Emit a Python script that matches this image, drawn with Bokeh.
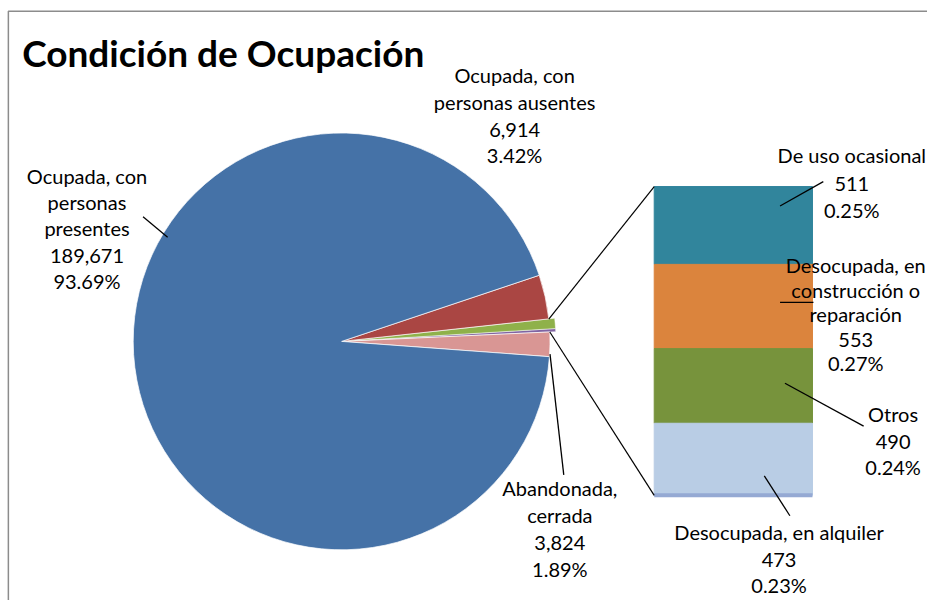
import math
from bokeh.plotting import figure
from bokeh.models import Range1d, ColumnDataSource
from bokeh.core.properties import value
from bokeh.embed import file_html
from bokeh.resources import INLINE

# ---------------- data ----------------
pie_names = ["Ocupada, con\npersonas\npresentes", "Ocupada, con\npersonas ausentes", "Abandonada,\ncerrada"]
pie_values = [189671, 6914, 3824]
bar_names = ["De uso ocasional", "Desocupada, en\nconstrucción o\nreparación", "Otros", "Desocupada, en alquiler"]
bar_values = [511, 553, 490, 473]

pie_colors = ["#4572A7", "#AA4643", "#D99694"]
bar_colors = ["#31859C", "#DB843D", "#77933C", "#B9CDE5"]
other_colors = ["#8FB14A", "#8064A2"]

total = sum(pie_values) + sum(bar_values)
other_total = sum(bar_values)

def lab(name, v):
    return f"{name}\n{v:,}\n{100.0 * v / total:.2f}%"

# ---------------- layout (data space = reference pixel space) ----------------
W, H = 927, 600
RW, RH = 943, 616
FONT = "Lato"

def to_data(x, y):
    return x, RH - y

cx, cy = to_data(347, 350)
R = 212
start_deg = -4.2

p = figure(width=W, height=H, x_range=Range1d(0, RW), y_range=Range1d(0, RH),
           output_backend="svg", toolbar_location=None,
           x_axis_type=None, y_axis_type=None, min_border=0)
p.outline_line_color = None
p.background_fill_color = "white"
p.border_fill_color = "white"

# chart frame (left and top edges visible)
fx, fy = to_data(8, 11)
p.line([fx, fx, RW], [0, fy, fy], line_color="#8C8C8C", line_width=1.5)

# ---------------- pie ----------------
seq = [(pie_values[2], pie_colors[2]), ("other", None), (pie_values[1], pie_colors[1]), (pie_values[0], pie_colors[0])]
a = math.radians(start_deg)
other_start = other_end = None
w_s, w_e, w_c = [], [], []
for v, c in seq:
    if v == "other":
        other_start = a
        span = 2 * math.pi * other_total / total
        other_end = a + span
        split = a + span * bar_values[3] / other_total
        p.wedge(x=cx, y=cy, radius=R + 6, start_angle=a, end_angle=split, color=other_colors[1],
                line_color="white", line_width=0.5)
        p.wedge(x=cx, y=cy, radius=R + 6, start_angle=split, end_angle=other_end, color=other_colors[0],
                line_color="white", line_width=0.5)
        a = other_end
        continue
    span = 2 * math.pi * v / total
    w_s.append(a); w_e.append(a + span); w_c.append(c)
    a += span
p.wedge(x=cx, y=cy, radius=R, start_angle="s", end_angle="e", color="c",
        line_color="white", line_alpha=0.7, line_width=1,
        source=ColumnDataSource(dict(s=w_s, e=w_e, c=w_c)))

# ---------------- stacked bar ----------------
bar_x0, bar_x1 = 665, 826
bar_bot = RH - 508
bar_top = RH - 191
k = other_total / (bar_top - bar_bot)
p.extra_y_ranges = {"bar": Range1d(start=-bar_bot * k, end=(RH - bar_bot) * k)}

bottoms, tops = [], []
acc = 0
for v in reversed(bar_values):
    bottoms.append(acc); acc += v; tops.append(acc)
bottoms = bottoms[::-1]; tops = tops[::-1]
p.quad(left=bar_x0, right=bar_x1, bottom="b", top="t", color="c", y_range_name="bar",
       source=ColumnDataSource(dict(b=bottoms, t=tops, c=bar_colors)))
p.segment(x0=bar_x0, y0=0, x1=bar_x1, y1=0, line_color="#95A9D3", line_width=4, y_range_name="bar")

# connectors from pie to bar
px_top = (cx + R * math.cos(other_end), cy + R * math.sin(other_end))
px_bot = (cx + R * math.cos(other_start), cy + R * math.sin(other_start))
p.segment(x0=[px_top[0], px_bot[0]], y0=[px_top[1], px_bot[1]],
          x1=[bar_x0, bar_x0], y1=[bar_bot + other_total / k, bar_bot], line_color="black", line_width=1.2)

# ---------------- labels ----------------
label_texts = [lab(pie_names[0], pie_values[0]), lab(pie_names[1], pie_values[1]), lab(pie_names[2], pie_values[2]),
               lab(bar_names[0], bar_values[0]), lab(bar_names[1], bar_values[1]),
               lab(bar_names[2], bar_values[2]), lab(bar_names[3], bar_values[3])]
label_pos_ref = [(88, 234), (523, 118), (569, 542), (866, 187), (870, 322), (908, 452), (792, 573)]
line_heights = [1.10, 1.11, 1.12, 1.14, 1.02, 1.10, 1.10]
for t, (x, y), lh in zip(label_texts, label_pos_ref, line_heights):
    dx, dy = to_data(x, y)
    p.text(x=[dx], y=[dy], text=[t], text_align="center", text_baseline="middle",
           text_font=value(FONT), text_font_size="20px", text_color="black", text_line_height=lh)

leaders_ref = [((145, 222), (170, 243)), ((793, 211), (837, 186)), ((793, 310), (827, 310)),
               ((798, 393), (878, 437)), ((777, 488), (803, 529)), ((559, 363), (573, 487))]
for (a0, a1) in leaders_ref:
    x0, y0 = to_data(*a0); x1, y1 = to_data(*a1)
    p.segment(x0=x0, y0=y0, x1=x1, y1=y1, line_color="black", line_width=1.3)

# title
tx, ty = to_data(22, 53)
p.text(x=[tx], y=[ty], text=["Condición de Ocupación"], text_align="left", text_baseline="middle",
       text_font=value(FONT), text_font_size="37px", text_font_style="bold", text_color="black")

open("out.html", "w").write(file_html(p, INLINE))
